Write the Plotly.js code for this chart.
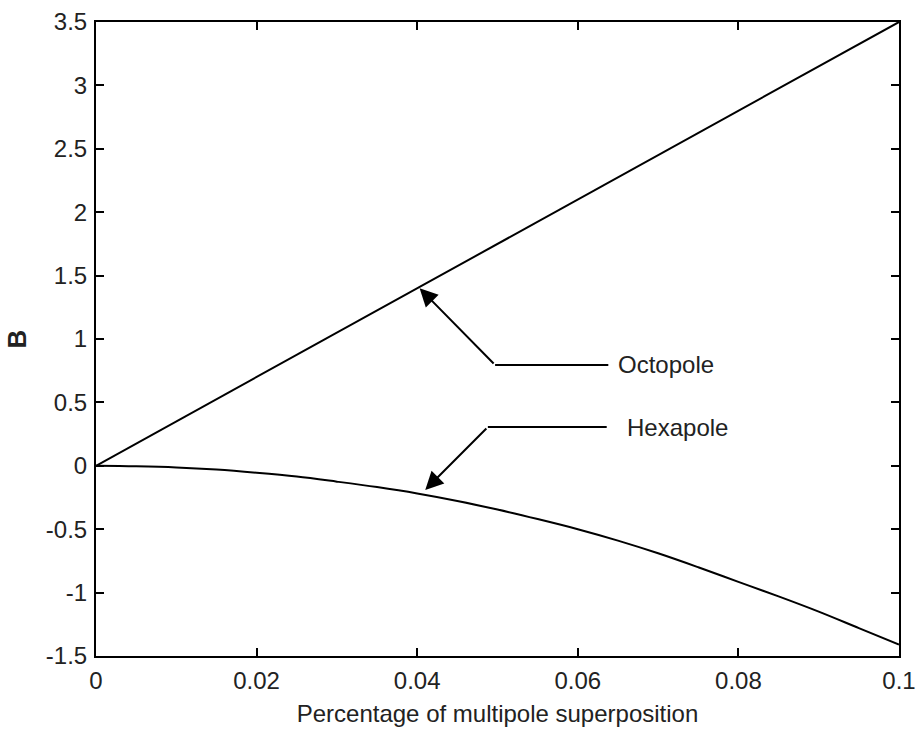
<!DOCTYPE html>
<html>
<head>
<meta charset="utf-8">
<script src="https://cdn.plot.ly/plotly-3.0.1.min.js"></script>
<style>html,body{margin:0;padding:0;background:#fff;}#chart{width:917px;height:730px;}</style>
</head>
<body>
<div id="chart"></div>
<script>
// Data
const xOcto = [0, 0.1];
const yOcto = [0, 3.5];
const xHexa = [0, 0.005, 0.01, 0.015, 0.02, 0.025, 0.03, 0.035, 0.04, 0.045, 0.05, 0.055, 0.06, 0.065, 0.07, 0.075, 0.08, 0.085, 0.09, 0.095, 0.1];
const yHexa = [0, -0.004, -0.013, -0.03, -0.055, -0.085, -0.125, -0.168, -0.218, -0.277, -0.345, -0.42, -0.50, -0.59, -0.69, -0.80, -0.915, -1.03, -1.15, -1.28, -1.41];
const xTickVals = [0, 0.02, 0.04, 0.06, 0.08, 0.1];
const xTickText = ["0", "0.02", "0.04", "0.06", "0.08", "0.1"];
const yTickVals = [-1.5, -1, -0.5, 0, 0.5, 1, 1.5, 2, 2.5, 3, 3.5];
const yTickText = ["-1.5", "-1", "-0.5", "0", "0.5", "1", "1.5", "2", "2.5", "3", "3.5"];
// Callout labels: arrow tip, elbow, end of horizontal leader, text start
const labelNames = ["Octopole", "Hexapole"];
const labelTip = [[0.0403, 1.40], [0.041, -0.19]];
const labelElbow = [[0.0497, 0.795], [0.0488, 0.306]];
const labelLineEnd = [0.0638, 0.0636];
const labelTextX = [0.0647, 0.0659];

const font = {family: 'Liberation Sans, Arial, sans-serif', size: 24, color: '#222'};

const traces = [
  {x: xOcto, y: yOcto, type: 'scatter', mode: 'lines', line: {color: '#000', width: 2}, showlegend: false, hoverinfo: 'skip'},
  {x: xHexa, y: yHexa, type: 'scatter', mode: 'lines', line: {color: '#000', width: 2, shape: 'spline', smoothing: 1}, showlegend: false, hoverinfo: 'skip'}
];

const shapes = [];
const annotations = [];
for (let i = 0; i < labelNames.length; i++) {
  shapes.push({type: 'line', xref: 'x', yref: 'y', x0: labelElbow[i][0], y0: labelElbow[i][1], x1: labelLineEnd[i], y1: labelElbow[i][1], line: {color: '#000', width: 2}});
  annotations.push({x: labelTip[i][0], y: labelTip[i][1], ax: labelElbow[i][0], ay: labelElbow[i][1], axref: 'x', ayref: 'y', xref: 'x', yref: 'y', text: '', showarrow: true, arrowhead: 2, arrowsize: 1.8, arrowwidth: 2, arrowcolor: '#000'});
  annotations.push({x: labelTextX[i], y: labelElbow[i][1], xref: 'x', yref: 'y', text: labelNames[i], showarrow: false, xanchor: 'left', yanchor: 'middle', font: font});
}

const axisCommon = {showline: true, linecolor: '#000', linewidth: 2, mirror: 'ticks', ticks: 'inside', ticklen: 8, tickwidth: 2, tickcolor: '#000', showgrid: false, zeroline: false, tickfont: font, tickmode: 'array'};

const layout = {
  width: 917, height: 730,
  margin: {l: 96, r: 18, t: 22, b: 74},
  paper_bgcolor: '#fff', plot_bgcolor: '#fff',
  font: font,
  xaxis: Object.assign({}, axisCommon, {range: [0, 0.1], tickvals: xTickVals, ticktext: xTickText, ticklabelstandoff: 2,
    title: {text: 'Percentage of multipole superposition', font: font, standoff: 12}}),
  yaxis: Object.assign({}, axisCommon, {range: [-1.5, 3.5], tickvals: yTickVals, ticktext: yTickText, ticklabelstandoff: 2,
    title: {text: '<b>B</b>', font: {family: font.family, size: 26, color: '#222'}, standoff: 12}}),
  shapes: shapes,
  annotations: annotations
};

Plotly.newPlot('chart', traces, layout, {displayModeBar: false, staticPlot: true});
</script>
</body>
</html>
